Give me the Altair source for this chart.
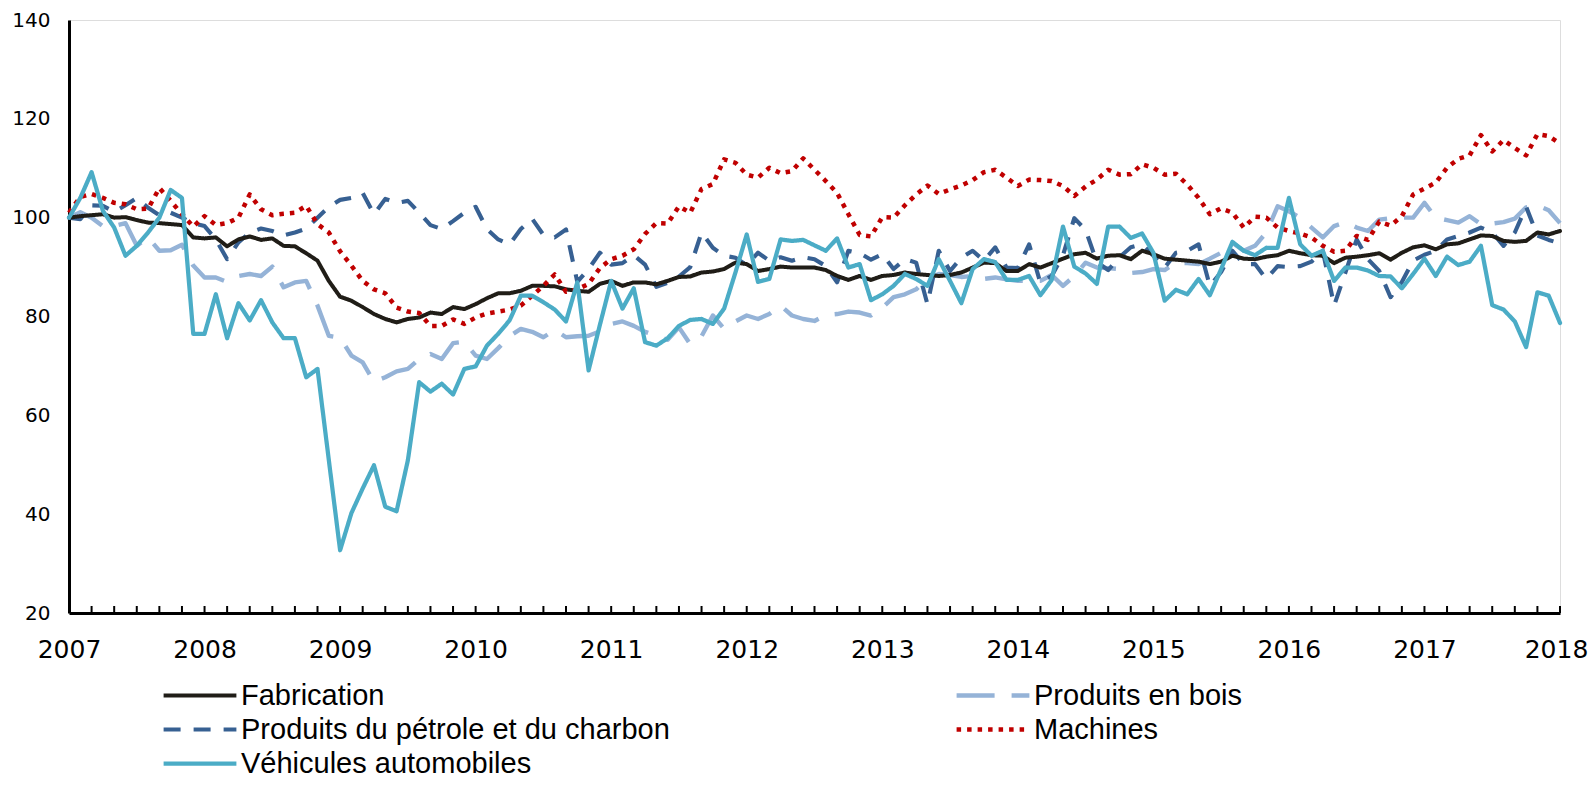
import altair as alt
import pandas as pd

# Monthly index, Jan 2007 .. Jan 2018 (133 months)
start_year = 2007

# legend order (Vega fills legend columns top-to-bottom)
series_names = [
    "Fabrication",
    "Produits du pétrole et du charbon",
    "Véhicules automobiles",
    "Produits en bois",
    "Machines",
]

fabrication = [
    100.0, 100.3, 100.5, 100.7, 100.0, 100.1, 99.5, 99.0, 98.9, 98.7, 98.5, 96.0,
    95.8, 96.0, 94.2, 95.6, 96.2, 95.5, 95.8, 94.3, 94.2, 92.8, 91.3, 87.2,
    84.0, 83.2, 81.9, 80.5, 79.5, 78.8, 79.5, 79.8, 80.8, 80.5, 81.9, 81.5,
    82.5, 83.7, 84.7, 84.7, 85.2, 86.2, 86.2, 86.1, 85.5, 85.2, 85.0, 86.6,
    87.2, 86.2, 86.9, 86.9, 86.5, 87.2, 88.0, 88.1, 88.9, 89.1, 89.6, 90.9,
    90.6, 89.2, 89.6, 90.1, 89.9, 89.9, 89.9, 89.4, 88.2, 87.4, 88.2, 87.4,
    88.2, 88.4, 88.9, 88.6, 88.4, 88.2, 88.4, 88.9, 89.9, 90.9, 90.8, 89.2,
    89.2, 90.6, 89.9, 90.8, 91.7, 92.6, 92.9, 91.7, 92.3, 92.4, 91.6, 93.3,
    92.6, 91.7, 91.5, 91.3, 91.1, 90.6, 91.1, 92.3, 91.7, 91.6, 92.1, 92.4,
    93.3, 92.8, 92.4, 92.3, 90.8, 91.9, 92.1, 92.4, 92.8, 91.5, 92.9, 94.0,
    94.4, 93.6, 94.6, 94.8, 95.6, 96.4, 96.3, 95.3, 95.1, 95.3, 97.0, 96.6,
    97.3,
]

bois = [
    100.0, 101.1, 100.0, 98.3, 98.3, 98.9, 94.3, 96.0, 93.3, 93.4, 94.5, 90.3,
    87.9, 87.9, 87.0, 88.2, 88.6, 88.2, 90.1, 85.9, 86.9, 87.2, 82.2, 76.1,
    75.7, 72.1, 70.7, 66.8, 67.7, 68.9, 69.4, 71.4, 72.4, 71.4, 74.6, 74.9,
    72.1, 71.4, 73.6, 76.0, 77.5, 76.9, 75.8, 77.3, 75.8, 76.0, 76.1, 77.0,
    78.5, 79.0, 78.1, 76.9, 76.1, 75.3, 77.8, 74.4, 76.0, 80.2, 77.5, 79.0,
    80.2, 79.5, 80.5, 82.2, 80.2, 79.5, 79.1, 80.3, 80.5, 81.0, 80.8, 80.2,
    81.8, 83.9, 84.5, 85.5, 87.7, 88.6, 88.4, 88.0, 88.2, 87.6, 87.9, 87.5,
    87.2, 87.2, 87.2, 88.4, 86.2, 88.2, 90.9, 89.9, 89.8, 89.6, 88.8, 89.0,
    89.6, 89.4, 90.9, 90.8, 90.6, 91.7, 92.9, 94.9, 93.3, 94.3, 97.0, 102.3,
    101.3, 100.0, 98.0, 96.0, 98.3, 99.1, 98.0, 97.3, 99.6, 99.9, 100.0, 100.0,
    103.0, 100.0, 99.5, 99.0, 100.3, 98.7, 98.8, 99.1, 99.8, 102.1, 102.5, 101.5,
    98.9,
]

petrole = [
    100.0, 99.7, 102.5, 102.4, 101.2, 102.5, 104.0, 102.0, 100.5, 101.0, 100.0, 98.9,
    98.3, 95.6, 91.6, 95.0, 97.0, 97.8, 97.3, 96.4, 97.0, 97.8, 100.0, 102.2,
    103.6, 104.0, 105.0, 100.7, 103.8, 103.0, 103.4, 101.0, 98.5, 97.7, 99.3, 101.0,
    102.2, 97.7, 95.6, 94.6, 97.7, 99.8, 96.5, 96.0, 97.6, 87.0, 89.6, 92.9,
    90.5, 90.8, 92.4, 90.5, 86.0, 86.8, 88.1, 90.0, 97.0, 93.9, 92.3, 91.9,
    90.4, 92.9, 91.3, 92.0, 91.3, 92.0, 91.6, 90.2, 86.9, 93.3, 92.8, 91.5,
    92.6, 89.6, 91.6, 90.9, 82.5, 93.3, 89.2, 91.9, 93.3, 91.3, 94.0, 89.9,
    89.8, 94.6, 86.8, 88.2, 92.4, 99.9, 97.5, 91.0, 89.4, 92.0, 94.0, 94.6,
    92.3, 89.9, 92.9, 93.3, 94.6, 86.2, 89.0, 93.3, 90.6, 90.6, 87.6, 90.2,
    90.0, 90.2, 91.1, 93.3, 82.2, 88.9, 95.6, 91.6, 89.2, 83.9, 87.0, 91.3,
    92.5, 93.3, 95.6, 96.3, 97.0, 98.0, 97.0, 94.3, 97.0, 102.2, 96.4, 95.5,
    94.8,
]

machines = [
    101.0, 104.2, 104.8, 104.0, 103.0, 102.7, 101.7, 101.8, 106.0, 103.4, 100.7, 98.2,
    100.3, 98.5, 98.9, 100.0, 104.7, 101.7, 100.5, 100.8, 101.0, 102.4, 98.7, 97.0,
    93.2, 90.3, 87.2, 85.5, 84.7, 81.8, 81.0, 80.7, 78.1, 78.1, 79.4, 78.5,
    79.8, 80.6, 81.0, 81.4, 82.2, 84.2, 86.2, 88.5, 85.0, 85.5, 86.6, 89.8,
    91.6, 92.3, 93.6, 96.7, 98.9, 98.8, 102.3, 101.0, 105.8, 106.8, 111.8, 111.1,
    108.7, 108.1, 110.1, 109.0, 109.4, 112.0, 109.7, 107.4, 105.0, 100.7, 96.5, 96.2,
    100.1, 100.0, 102.5, 104.7, 106.5, 104.8, 105.7, 106.5, 107.6, 109.2, 109.7, 108.1,
    106.4, 107.7, 107.6, 107.4, 106.4, 104.4, 106.3, 107.7, 109.7, 108.7, 108.8, 110.8,
    110.1, 108.7, 108.9, 106.7, 104.0, 100.7, 101.9, 101.0, 98.0, 100.2, 100.0, 98.0,
    97.3, 96.8, 96.0, 94.3, 93.1, 93.3, 96.3, 95.5, 99.2, 98.4, 100.3, 104.7,
    105.9, 107.1, 110.1, 111.9, 112.6, 116.7, 113.4, 115.7, 114.1, 112.6, 116.9, 116.5,
    115.0,
]

vehicules = [
    100.0, 104.0, 109.2, 101.4, 98.0, 92.3, 94.3, 97.0, 100.0, 105.6, 104.0, 76.5,
    76.5, 84.5, 75.6, 82.7, 79.2, 83.3, 78.8, 75.6, 75.6, 67.7, 69.4, 51.0,
    32.7, 40.2, 45.2, 49.9, 41.5, 40.6, 50.9, 66.7, 64.8, 66.4, 64.2, 69.4,
    69.9, 74.1, 76.5, 79.2, 84.2, 84.2, 82.9, 81.4, 79.0, 86.9, 69.1, 78.3,
    87.2, 81.6, 85.7, 74.8, 74.1, 75.6, 78.1, 79.3, 79.5, 78.5, 81.6, 88.9,
    96.6, 87.0, 87.6, 95.6, 95.3, 95.5, 94.4, 93.3, 95.8, 89.9, 90.6, 83.3,
    84.5, 86.2, 88.6, 87.6, 86.2, 91.6, 87.2, 82.7, 89.6, 91.6, 91.0, 87.4,
    87.4, 88.2, 84.3, 87.4, 98.2, 90.1, 88.7, 86.6, 98.2, 98.2, 95.9, 96.8,
    92.9, 83.2, 85.4, 84.5, 87.6, 84.3, 89.6, 95.1, 93.3, 92.4, 93.9, 93.9,
    104.0, 94.6, 92.3, 93.3, 87.2, 89.9, 89.9, 89.3, 88.2, 88.1, 85.7, 88.6,
    91.7, 88.2, 92.1, 90.4, 91.1, 94.3, 82.3, 81.4, 79.0, 73.8, 84.9, 84.2,
    78.7,
]

year_labels = list(range(2007, 2019))
y_labels = [20, 40, 60, 80, 100, 120, 140]

# style per series, in the order of series_names
colors = ["#201d17", "#376092", "#4bacc6", "#95b3d7", "#c00000"]
dashes = [[1, 0], [17, 13], [1, 0], [38, 17], [4.5, 6]]
widths = [4, 4.5, 4, 5, 5.5]
caps = {
    "Fabrication": "round",
    "Produits du pétrole et du charbon": "butt",
    "Véhicules automobiles": "round",
    "Produits en bois": "butt",
    "Machines": "butt",
}

values_by_series = {
    "Fabrication": fabrication,
    "Produits en bois": bois,
    "Produits du pétrole et du charbon": petrole,
    "Machines": machines,
    "Véhicules automobiles": vehicules,
}

rows = []
for name, vals in values_by_series.items():
    for m, v in enumerate(vals):
        rows.append({"t": start_year + m / 12.0, "v": v, "series": name})
df = pd.DataFrame(rows)

minor_ticks = pd.DataFrame({"t": [start_year + k / 6.0 for k in range(1, 67)]})

x_enc = alt.X(
    "t:Q",
    scale=alt.Scale(domain=[2007, 2018], nice=False, zero=False),
    axis=alt.Axis(
        values=year_labels, format="d", ticks=False, grid=False, title=None,
        labelFontSize=25, labelPadding=24, labelFlush=False, labelFont="DejaVu Sans",
        labelOffset={"expr": "datum.value == 2018 ? -4 : 0"},
        labelColor="black", domainColor="black", domainWidth=3,
    ),
)
y_enc = alt.Y(
    "v:Q",
    scale=alt.Scale(domain=[20, 140], nice=False, zero=False),
    axis=alt.Axis(
        values=y_labels, ticks=False, grid=False, title=None,
        labelFontSize=20, labelPadding=19, labelFont="DejaVu Sans",
        labelColor="black", domainColor="black", domainWidth=3,
    ),
)

legend = alt.Legend(
    title=None, orient="none", legendX=92, legendY=660, columns=2,
    columnPadding=284, rowPadding=3, symbolType="stroke", symbolSize=5300,
    clipHeight=31,
    labelFontSize=29, labelFont="Liberation Sans, Arial, sans-serif",
    labelColor="black", labelOffset=2, labelLimit=0,
)

color_enc = alt.Color("series:N", scale=alt.Scale(domain=series_names, range=colors), legend=legend)
dash_enc = alt.StrokeDash("series:N", scale=alt.Scale(domain=series_names, range=dashes), legend=legend)
width_enc = alt.StrokeWidth("series:N", scale=alt.Scale(domain=series_names, range=widths), legend=legend)

draw_order = [
    "Produits en bois",
    "Produits du pétrole et du charbon",
    "Fabrication",
    "Machines",
    "Véhicules automobiles",
]

layers = []
for name in draw_order:
    layers.append(
        alt.Chart(df)
        .transform_filter(alt.datum.series == name)
        .mark_line(strokeCap=caps[name], strokeJoin="round")
        .encode(x=x_enc, y=y_enc, color=color_enc, strokeDash=dash_enc, strokeWidth=width_enc)
    )

ticks = alt.Chart(minor_ticks).mark_rule(color="black", strokeWidth=2).encode(
    x=alt.X("t:Q"), y=alt.value(586), y2=alt.value(593)
)

chart = (
    alt.layer(*layers, ticks)
    .properties(
        width=1491, height=593,
        padding={"left": 61, "top": 12, "right": 28, "bottom": 167},
        autosize=alt.AutoSizeParams(type="none"),
    )
    .configure_view(stroke="black", strokeWidth=2)
    .configure(background="white")
)

chart.save("out.html", embed_options={"renderer": "svg", "actions": False})
